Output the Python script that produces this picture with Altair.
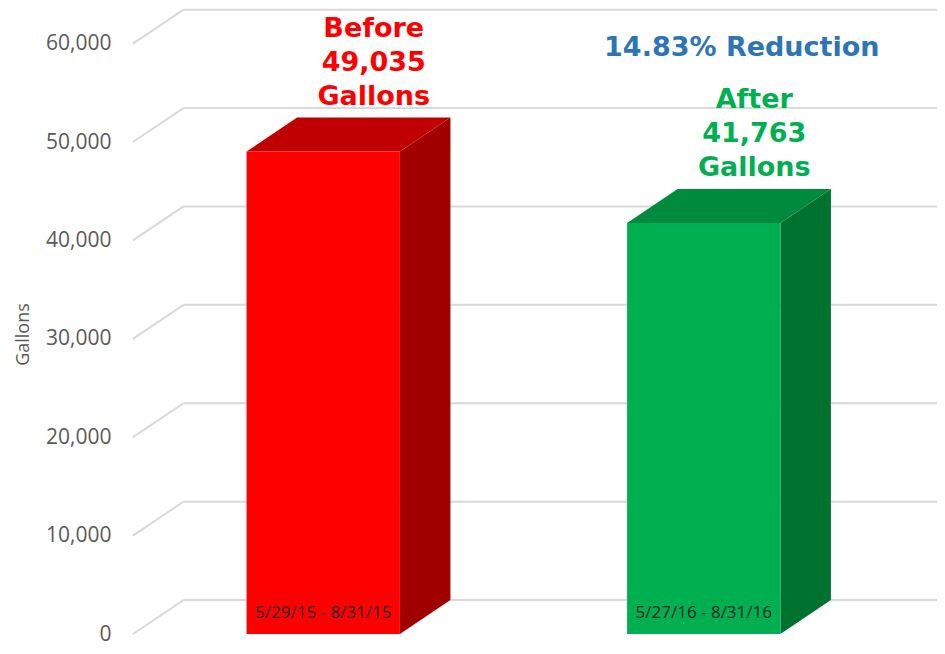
import altair as alt
import pandas as pd

# ---- data ----
periods = ["Before", "After"]
date_ranges = ["5/29/15 - 8/31/15", "5/27/16 - 8/31/16"]
gallons = [49035, 41763]
positions = [0.5, 1.5]
tick_values = [0, 10000, 20000, 30000, 40000, 50000, 60000]

# ---- style ----
front_colors = ["#FF0000", "#00B050"]
top_colors = ["#C00000", "#008A3E"]
side_colors = ["#A00000", "#00722F"]
label_colors = ["#FF0000", "#00B050"]
BAR_W = 0.403
DEPTH_X = 0.1327
DEPTH_Y = 3450
X_MAX = 2.113
Y_MAX = 63618

xs = alt.Scale(domain=[0, X_MAX], nice=False, zero=False)
ys = alt.Scale(domain=[0, Y_MAX], nice=False, zero=False)
yaxis = alt.Axis(values=tick_values, labelExpr="format(datum.value, ',')", title="Gallons",
                 domain=False, ticks=False, grid=False, labelPadding=22,
                 labelFont="Open Sans", labelFontSize=21, labelColor="#595959",
                 titleFont="Open Sans", titleFontSize=18, titleColor="#595959",
                 titleFontWeight="normal",
                 titleX=-110, titleY=326, titleAngle=270,
                 titleAlign="center", titleBaseline="middle")

bars = pd.DataFrame({"period": periods, "dates": date_ranges, "value": gallons, "pos": positions})
bars["x0"] = bars["pos"] - BAR_W / 2
bars["x1"] = bars["pos"] + BAR_W / 2
bars["zero"] = 0
bars["label"] = [f"{p}|{v:,}|Gallons" for p, v in zip(periods, gallons)]
bars["ytop"] = bars["value"] + DEPTH_Y
bars["xback"] = bars["pos"] + DEPTH_X

side_rows, top_rows = [], []
for p, v, c in zip(periods, gallons, positions):
    side_rows.append({"period": p, "x": c + BAR_W / 2, "y": v, "y2": 0})
    side_rows.append({"period": p, "x": c + BAR_W / 2 + DEPTH_X, "y": v + DEPTH_Y, "y2": DEPTH_Y})
    top_rows.append({"period": p, "y": v, "x": c - BAR_W / 2, "x2": c + BAR_W / 2})
    top_rows.append({"period": p, "y": v + DEPTH_Y, "x": c - BAR_W / 2 + DEPTH_X, "x2": c + BAR_W / 2 + DEPTH_X})
side = pd.DataFrame(side_rows)
top = pd.DataFrame(top_rows)

grid = pd.DataFrame({"t": tick_values})
grid["x0"] = 0.0
grid["xb"] = DEPTH_X
grid["xe"] = X_MAX
grid["tb"] = grid["t"] + DEPTH_Y

reduction = (gallons[0] - gallons[1]) / gallons[0] * 100
note = pd.DataFrame({"text": [f"{reduction:.2f}% Reduction"], "x": [positions[1] + 0.1], "y": [tick_values[-1]]})

GRID_COLOR = "#D9D9D9"


def Y(field):
    return alt.Y(field, scale=ys, axis=yaxis)


def X(field):
    return alt.X(field, scale=xs, axis=None)


diag = alt.Chart(grid).mark_rule(color=GRID_COLOR, strokeWidth=2).encode(
    x=X("x0:Q"), x2="xb:Q", y=Y("t:Q"), y2="tb:Q",
)
hline = alt.Chart(grid).mark_rule(color=GRID_COLOR, strokeWidth=2).encode(
    x=X("xb:Q"), x2="xe:Q", y=Y("tb:Q"),
)


def cscale(rng):
    return alt.Scale(domain=periods, range=rng)


front = alt.Chart(bars).mark_rect().encode(
    x=X("x0:Q"), x2="x1:Q", y=Y("value:Q"), y2="zero:Q",
    color=alt.Color("period:N", scale=cscale(front_colors), legend=None),
)
side_face = alt.Chart(side).mark_area(orient="vertical").encode(
    x=X("x:Q"), y=Y("y:Q"), y2="y2:Q",
    color=alt.Color("period:N", scale=cscale(side_colors), legend=None),
    detail="period:N",
)
top_face = alt.Chart(top).mark_area(orient="horizontal").encode(
    y=Y("y:Q"), x=X("x:Q"), x2="x2:Q",
    color=alt.Color("period:N", scale=cscale(top_colors), legend=None),
    detail="period:N",
)
bar_labels = alt.Chart(bars).transform_calculate(lines="split(datum.label, '|')").mark_text(
    font="DejaVu Sans", fontWeight="bold", fontSize=27, baseline="alphabetic", align="center",
    lineHeight=34, dy=-81,
).encode(
    x=X("xback:Q"), y=Y("ytop:Q"), text="lines:N",
    color=alt.Color("period:N", scale=cscale(label_colors), legend=None),
)
date_labels = alt.Chart(bars).mark_text(
    font="Open Sans", fontSize=17, color="#262626", baseline="middle", align="center", dy=-21,
).encode(
    x=X("pos:Q"), y=Y("zero:Q"), text="dates:N",
)
note_text = alt.Chart(note).mark_text(
    font="DejaVu Sans", fontWeight="bold", fontSize=27, color="#2E75B6", baseline="middle",
    align="center", dy=4,
).encode(
    x=X("x:Q"), y=Y("y:Q"), text="text:N",
)

chart = alt.layer(
    diag, hline, side_face, top_face, front, bar_labels, date_labels, note_text
).resolve_scale(color="independent").properties(
    width=804, height=626,
    autosize=alt.AutoSizeParams(type="none"),
    padding={"left": 125, "top": 0, "right": 0, "bottom": 12},
    background="white",
).configure_view(stroke=None)

chart.save("out.html", embed_options={"renderer": "svg", "actions": False})
